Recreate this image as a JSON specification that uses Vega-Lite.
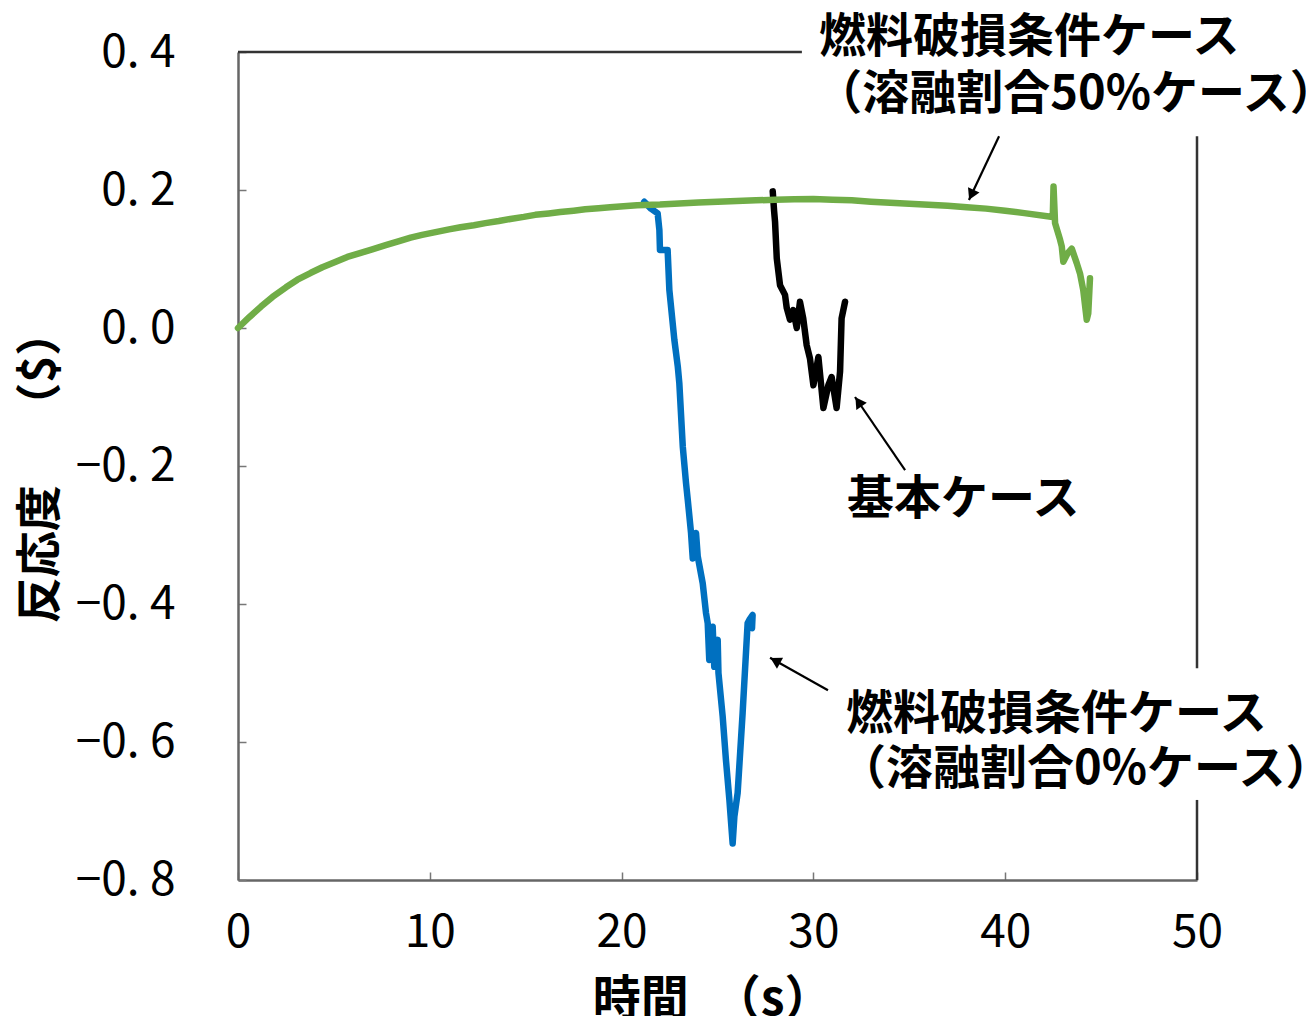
{
  "$schema": "https://vega.github.io/schema/vega-lite/v6.json",
  "width": 959,
  "height": 828,
  "autosize": {"type": "none"},
  "padding": {"left": 238, "top": 52, "right": 109, "bottom": 136},
  "background": "white",
  "config": {"view": {"stroke": null}},
  "datasets": {
    "series": [
      {"i": 1, "s": "blue", "t": 21.18, "r": 0.183},
      {"i": 2, "s": "blue", "t": 21.53, "r": 0.173},
      {"i": 3, "s": "blue", "t": 21.88, "r": 0.166},
      {"i": 4, "s": "blue", "t": 21.97, "r": 0.142},
      {"i": 5, "s": "blue", "t": 22.0, "r": 0.113},
      {"i": 6, "s": "blue", "t": 22.4, "r": 0.113},
      {"i": 7, "s": "blue", "t": 22.49, "r": 0.055},
      {"i": 8, "s": "blue", "t": 22.75, "r": -0.017},
      {"i": 9, "s": "blue", "t": 22.93, "r": -0.056},
      {"i": 10, "s": "blue", "t": 23.01, "r": -0.08},
      {"i": 11, "s": "blue", "t": 23.19, "r": -0.172},
      {"i": 12, "s": "blue", "t": 23.36, "r": -0.225},
      {"i": 13, "s": "blue", "t": 23.45, "r": -0.249},
      {"i": 14, "s": "blue", "t": 23.62, "r": -0.297},
      {"i": 15, "s": "blue", "t": 23.71, "r": -0.334},
      {"i": 16, "s": "blue", "t": 23.88, "r": -0.297},
      {"i": 17, "s": "blue", "t": 23.97, "r": -0.331},
      {"i": 18, "s": "blue", "t": 24.23, "r": -0.37},
      {"i": 19, "s": "blue", "t": 24.4, "r": -0.413},
      {"i": 20, "s": "blue", "t": 24.49, "r": -0.428},
      {"i": 21, "s": "blue", "t": 24.57, "r": -0.481},
      {"i": 22, "s": "blue", "t": 24.75, "r": -0.433},
      {"i": 23, "s": "blue", "t": 24.83, "r": -0.491},
      {"i": 24, "s": "blue", "t": 25.01, "r": -0.452},
      {"i": 25, "s": "blue", "t": 25.05, "r": -0.5},
      {"i": 26, "s": "blue", "t": 25.27, "r": -0.563},
      {"i": 27, "s": "blue", "t": 25.44, "r": -0.626},
      {"i": 28, "s": "blue", "t": 25.62, "r": -0.684},
      {"i": 29, "s": "blue", "t": 25.79, "r": -0.747},
      {"i": 30, "s": "blue", "t": 25.88, "r": -0.708},
      {"i": 31, "s": "blue", "t": 26.05, "r": -0.674},
      {"i": 32, "s": "blue", "t": 26.31, "r": -0.558},
      {"i": 33, "s": "blue", "t": 26.57, "r": -0.428},
      {"i": 34, "s": "blue", "t": 26.66, "r": -0.423},
      {"i": 35, "s": "blue", "t": 26.83, "r": -0.416},
      {"i": 36, "s": "blue", "t": 26.8, "r": -0.435},
      {"i": 101, "s": "black", "t": 27.88, "r": 0.198},
      {"i": 102, "s": "black", "t": 27.95, "r": 0.17},
      {"i": 103, "s": "black", "t": 28.0, "r": 0.154},
      {"i": 104, "s": "black", "t": 28.09, "r": 0.101},
      {"i": 105, "s": "black", "t": 28.26, "r": 0.062},
      {"i": 106, "s": "black", "t": 28.52, "r": 0.048},
      {"i": 107, "s": "black", "t": 28.61, "r": 0.029},
      {"i": 108, "s": "black", "t": 28.78, "r": 0.012},
      {"i": 109, "s": "black", "t": 28.95, "r": 0.026},
      {"i": 110, "s": "black", "t": 29.13, "r": 0.0},
      {"i": 111, "s": "black", "t": 29.3, "r": 0.038},
      {"i": 112, "s": "black", "t": 29.47, "r": 0.014},
      {"i": 113, "s": "black", "t": 29.65, "r": -0.025},
      {"i": 114, "s": "black", "t": 29.82, "r": -0.044},
      {"i": 115, "s": "black", "t": 30.0, "r": -0.083},
      {"i": 116, "s": "black", "t": 30.26, "r": -0.042},
      {"i": 117, "s": "black", "t": 30.52, "r": -0.116},
      {"i": 118, "s": "black", "t": 30.78, "r": -0.083},
      {"i": 119, "s": "black", "t": 30.95, "r": -0.071},
      {"i": 120, "s": "black", "t": 31.21, "r": -0.116},
      {"i": 121, "s": "black", "t": 31.39, "r": -0.063},
      {"i": 122, "s": "black", "t": 31.47, "r": 0.014},
      {"i": 123, "s": "black", "t": 31.65, "r": 0.038},
      {"i": 201, "s": "green", "t": 0.0, "r": 0.0},
      {"i": 202, "s": "green", "t": 0.6, "r": 0.016},
      {"i": 203, "s": "green", "t": 1.2, "r": 0.031},
      {"i": 204, "s": "green", "t": 1.8, "r": 0.045},
      {"i": 205, "s": "green", "t": 2.5, "r": 0.059},
      {"i": 206, "s": "green", "t": 3.1, "r": 0.07},
      {"i": 207, "s": "green", "t": 3.8, "r": 0.08},
      {"i": 208, "s": "green", "t": 4.4, "r": 0.088},
      {"i": 209, "s": "green", "t": 5.1, "r": 0.096},
      {"i": 210, "s": "green", "t": 5.7, "r": 0.103},
      {"i": 211, "s": "green", "t": 6.4, "r": 0.109},
      {"i": 212, "s": "green", "t": 7.0, "r": 0.114},
      {"i": 213, "s": "green", "t": 7.7, "r": 0.12},
      {"i": 214, "s": "green", "t": 8.4, "r": 0.126},
      {"i": 215, "s": "green", "t": 9.0, "r": 0.131},
      {"i": 216, "s": "green", "t": 9.6, "r": 0.135},
      {"i": 217, "s": "green", "t": 10.3, "r": 0.139},
      {"i": 218, "s": "green", "t": 11.0, "r": 0.143},
      {"i": 219, "s": "green", "t": 11.6, "r": 0.146},
      {"i": 220, "s": "green", "t": 12.3, "r": 0.149},
      {"i": 221, "s": "green", "t": 12.9, "r": 0.152},
      {"i": 222, "s": "green", "t": 13.6, "r": 0.155},
      {"i": 223, "s": "green", "t": 14.2, "r": 0.158},
      {"i": 224, "s": "green", "t": 14.9, "r": 0.161},
      {"i": 225, "s": "green", "t": 15.5, "r": 0.164},
      {"i": 226, "s": "green", "t": 16.2, "r": 0.166},
      {"i": 227, "s": "green", "t": 16.8, "r": 0.168},
      {"i": 228, "s": "green", "t": 17.5, "r": 0.17},
      {"i": 229, "s": "green", "t": 18.1, "r": 0.172},
      {"i": 230, "s": "green", "t": 18.8, "r": 0.1735},
      {"i": 231, "s": "green", "t": 19.4, "r": 0.175},
      {"i": 232, "s": "green", "t": 20.1, "r": 0.1765},
      {"i": 233, "s": "green", "t": 20.8, "r": 0.178},
      {"i": 234, "s": "green", "t": 22.0, "r": 0.179},
      {"i": 235, "s": "green", "t": 23.0, "r": 0.1805},
      {"i": 236, "s": "green", "t": 24.0, "r": 0.182},
      {"i": 237, "s": "green", "t": 25.0, "r": 0.183},
      {"i": 238, "s": "green", "t": 26.0, "r": 0.184},
      {"i": 239, "s": "green", "t": 27.0, "r": 0.185},
      {"i": 240, "s": "green", "t": 28.0, "r": 0.186},
      {"i": 241, "s": "green", "t": 29.0, "r": 0.1865},
      {"i": 242, "s": "green", "t": 30.0, "r": 0.187},
      {"i": 243, "s": "green", "t": 31.0, "r": 0.186},
      {"i": 244, "s": "green", "t": 32.0, "r": 0.185},
      {"i": 245, "s": "green", "t": 33.0, "r": 0.183},
      {"i": 246, "s": "green", "t": 34.0, "r": 0.1815},
      {"i": 247, "s": "green", "t": 35.0, "r": 0.18},
      {"i": 248, "s": "green", "t": 36.0, "r": 0.1785},
      {"i": 249, "s": "green", "t": 37.0, "r": 0.177},
      {"i": 250, "s": "green", "t": 38.0, "r": 0.175},
      {"i": 251, "s": "green", "t": 39.0, "r": 0.173},
      {"i": 252, "s": "green", "t": 40.0, "r": 0.17},
      {"i": 253, "s": "green", "t": 41.0, "r": 0.1665},
      {"i": 254, "s": "green", "t": 42.48, "r": 0.161},
      {"i": 255, "s": "green", "t": 42.52, "r": 0.205},
      {"i": 256, "s": "green", "t": 42.6, "r": 0.152},
      {"i": 257, "s": "green", "t": 42.86, "r": 0.128},
      {"i": 258, "s": "green", "t": 42.95, "r": 0.118},
      {"i": 259, "s": "green", "t": 43.03, "r": 0.096},
      {"i": 260, "s": "green", "t": 43.25, "r": 0.108},
      {"i": 261, "s": "green", "t": 43.47, "r": 0.115},
      {"i": 262, "s": "green", "t": 43.73, "r": 0.094},
      {"i": 263, "s": "green", "t": 43.9, "r": 0.079},
      {"i": 264, "s": "green", "t": 44.07, "r": 0.055},
      {"i": 265, "s": "green", "t": 44.25, "r": 0.012},
      {"i": 266, "s": "green", "t": 44.33, "r": 0.021},
      {"i": 267, "s": "green", "t": 44.42, "r": 0.072}
    ],
    "labels": [
      {"t": 30.29, "r": 0.42, "txt": "燃料破損条件ケース"},
      {"t": 30.1, "r": 0.338, "txt": "（溶融割合50%ケース）"},
      {"t": 31.75, "r": -0.249, "txt": "基本ケース"},
      {"t": 31.7, "r": -0.561, "txt": "燃料破損条件ケース"},
      {"t": 31.33, "r": -0.64, "txt": "（溶融割合0%ケース）"}
    ],
    "arrows": [
      {"id": 1, "t": 39.68, "r": 0.278, "t2": 38.11, "r2": 0.1855},
      {"id": 2, "t": 34.78, "r": -0.206, "t2": 32.17, "r2": -0.1},
      {"id": 3, "t": 30.76, "r": -0.525, "t2": 27.74, "r2": -0.478}
    ],
    "heads": [
      {"id": 1, "t": 38.24, "r": 0.193},
      {"id": 2, "t": 32.35, "r": -0.107},
      {"id": 3, "t": 28.01, "r": -0.482}
    ],
    "frame": [
      {"t": 0, "r": 0.4, "t2": 29.4, "r2": 0.4},
      {"t": 50, "r": -0.493, "t2": 50, "r2": 0.278},
      {"t": 50, "r": -0.8, "t2": 50, "r2": -0.684}
    ]
  },
  "layer": [
    {
      "data": {"name": "frame"},
      "mark": {"type": "rule", "color": "#333333", "strokeWidth": 2.5},
      "encoding": {
        "x": {"field": "t", "type": "quantitative", "scale": {"domain": [0, 50], "nice": false, "zero": false},
          "axis": {
            "values": [0, 10, 20, 30, 40, 50],
            "grid": false,
            "domainColor": "#666666", "domainWidth": 2.5,
            "tickColor": "#777777", "tickSize": -8, "tickWidth": 1.5,
            "labelFont": "Noto Sans CJK JP", "labelFontSize": 46, "labelColor": "black",
            "labelPadding": 38, "labelFlush": false,
            "title": "時間　（s）",
            "titleFont": "Noto Sans CJK JP", "titleFontSize": 48, "titleFontWeight": "bold", "titleColor": "black",
            "titleX": 474, "titleY": 120, "titleBaseline": "middle", "titleAlign": "center"
          }},
        "y": {"field": "r", "type": "quantitative", "scale": {"domain": [-0.8, 0.4], "nice": false, "zero": false},
          "axis": {
            "values": [-0.8, -0.6, -0.4, -0.2, 0, 0.2, 0.4],
            "grid": false,
            "domainColor": "#666666", "domainWidth": 2.5,
            "tickColor": "#777777", "tickSize": -8, "tickWidth": 1.5,
            "labelFont": "Noto Sans CJK JP", "labelFontSize": 46, "labelColor": "black",
            "labelPadding": 71, "labelFlush": false, "labelBaseline": "middle",
            "labelExpr": "replace(format(datum.value, '.1f'), '.', '. ')",
            "title": "反応度　 （$）",
            "titleFont": "Noto Sans CJK JP", "titleFontSize": 46, "titleFontWeight": "bold", "titleColor": "black",
            "titleAngle": -90, "titleX": -198, "titleY": 414, "titleBaseline": "middle", "titleAlign": "center"
          }},
        "x2": {"field": "t2"},
        "y2": {"field": "r2"}
      }
    },
    {
      "data": {"name": "series"},
      "mark": {"type": "line", "strokeJoin": "round", "strokeCap": "round"},
      "encoding": {
        "x": {"field": "t", "type": "quantitative"},
        "y": {"field": "r", "type": "quantitative"},
        "order": {"field": "i", "type": "quantitative"},
        "color": {"field": "s", "type": "nominal", "scale": {"domain": ["blue", "black", "green"], "range": ["#0070C0", "#000000", "#70AD47"]}, "legend": null},
        "strokeWidth": {"field": "s", "type": "nominal", "scale": {"domain": ["blue", "black", "green"], "range": [6.5, 6.5, 5]}, "legend": null}
      }
    },
    {
      "data": {"name": "arrows"},
      "mark": {"type": "rule", "color": "black", "strokeWidth": 2.2},
      "encoding": {
        "x": {"field": "t", "type": "quantitative"},
        "y": {"field": "r", "type": "quantitative"},
        "x2": {"field": "t2"},
        "y2": {"field": "r2"}
      }
    },
    {
      "data": {"name": "heads"},
      "transform": [{"filter": "datum.id == 1"}],
      "mark": {"type": "point", "shape": "triangle-up", "filled": true, "color": "black", "opacity": 1, "size": 160, "angle": 205},
      "encoding": {"x": {"field": "t", "type": "quantitative"}, "y": {"field": "r", "type": "quantitative"}}
    },
    {
      "data": {"name": "heads"},
      "transform": [{"filter": "datum.id == 2"}],
      "mark": {"type": "point", "shape": "triangle-up", "filled": true, "color": "black", "opacity": 1, "size": 160, "angle": 325.6},
      "encoding": {"x": {"field": "t", "type": "quantitative"}, "y": {"field": "r", "type": "quantitative"}}
    },
    {
      "data": {"name": "heads"},
      "transform": [{"filter": "datum.id == 3"}],
      "mark": {"type": "point", "shape": "triangle-up", "filled": true, "color": "black", "opacity": 1, "size": 160, "angle": 298.9},
      "encoding": {"x": {"field": "t", "type": "quantitative"}, "y": {"field": "r", "type": "quantitative"}}
    },
    {
      "data": {"name": "labels"},
      "mark": {"type": "text", "align": "left", "baseline": "middle", "font": "Noto Sans CJK JP", "fontWeight": "bold", "fontSize": 47, "color": "black"},
      "encoding": {
        "x": {"field": "t", "type": "quantitative"},
        "y": {"field": "r", "type": "quantitative"},
        "text": {"field": "txt"}
      }
    }
  ]
}
